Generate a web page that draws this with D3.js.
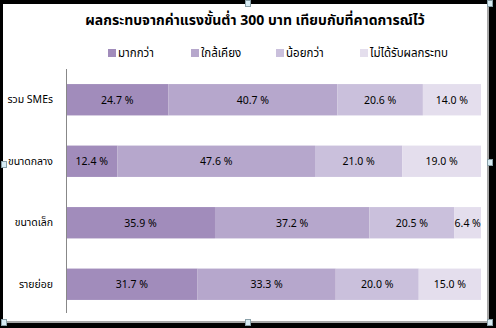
<!DOCTYPE html>
<html><head><meta charset="utf-8">
<script src="https://cdn.jsdelivr.net/npm/d3@7"></script>
<style>
html,body{margin:0;padding:0;background:#000;}
svg{display:block;}
text{font-family:Tahoma,"Noto Sans Thai","Noto Sans",sans-serif;}
</style></head>
<body><svg id="c" width="496" height="328"></svg>
<script>
const title = "ผลกระทบจากค่าแรงขั้นต่ำ 300 บาท  เทียบกับที่คาดการณ์ไว้";
const categories = ["รวม SMEs","ขนาดกลาง","ขนาดเล็ก","รายย่อย"];
const seriesNames = ["มากกว่า","ใกล้เคียง","น้อยกว่า","ไม่ได้รับผลกระทบ"];
const more      = [24.7, 12.4, 35.9, 31.7];
const similar   = [40.7, 47.6, 37.2, 33.3];
const less      = [20.6, 21.0, 20.5, 20.0];
const noImpact  = [14.0, 19.0, 6.4, 15.0];
const colors = ["#a18cbb","#b6a7cc","#cac0dc","#e4deed"];

const seriesValues = [more, similar, less, noImpact];
const rows = categories.map((c,i)=>{
  const o={cat:c}; seriesNames.forEach((s,j)=>o[s]=seriesValues[j][i]); return o;
});
const stack = d3.stack().keys(seriesNames)(rows);

const svg = d3.select("#c");
svg.append("rect").attr("x",3).attr("y",4).attr("width",486).attr("height",319).attr("fill","#a6a6a6");
svg.append("rect").attr("x",3).attr("y",4).attr("width",484).attr("height",317).attr("fill","#fff");

const x = d3.scaleLinear().domain([0,100]).range([66,481]);
const y = d3.scaleBand().domain(categories).range([69,315]).paddingInner(0.49).paddingOuter(0.245);

svg.append("text").attr("x",255).attr("y",25).attr("text-anchor","middle")
  .attr("font-size",14).attr("font-weight","bold").attr("fill","#000").text(title);

const legX = [108,191,276,360];
seriesNames.forEach((s,i)=>{
  svg.append("rect").attr("x",legX[i]).attr("y",49).attr("width",8).attr("height",8).attr("fill",colors[i]);
  svg.append("text").attr("x",legX[i]+10).attr("y",57).attr("font-size",11.5).attr("fill","#000").text(s);
});

const g = svg.append("g");
stack.forEach((layer,j)=>{
  g.selectAll(null).data(layer).enter().append("rect")
    .attr("x",d=>x(d[0])).attr("y",d=>y(d.data.cat))
    .attr("width",d=>x(d[1])-x(d[0])).attr("height",y.bandwidth())
    .attr("fill",colors[j]);
  g.selectAll(null).data(layer).enter().append("text")
    .attr("x",d=>(x(d[0])+x(d[1]))/2).attr("y",d=>y(d.data.cat)+y.bandwidth()/2+4)
    .attr("text-anchor","middle").attr("font-size",10.5).attr("fill","#000")
    .text(d=>d3.format(".1f")(d[1]-d[0])+" %");
});

const ax = d3.axisLeft(y).tickSize(0).tickPadding(13);
const axG = svg.append("g").attr("transform","translate(66,0)").call(ax);
axG.select(".domain").attr("stroke","#888").attr("d","M0.5,69V313");
axG.selectAll("text").attr("font-size",10.5).attr("fill","#000").attr("font-family",null);

const handles = [[245,0],[1,161],[487,159],[245,319],[487,0],[1,319],[487,319]];
handles.forEach(h=>{
  svg.append("rect").attr("x",h[0]+0.5).attr("y",h[1]+0.5).attr("width",5).attr("height",6)
    .attr("fill","#d8ecf4").attr("stroke","#8aa0a8").attr("stroke-width",1);
});
</script></body></html>
